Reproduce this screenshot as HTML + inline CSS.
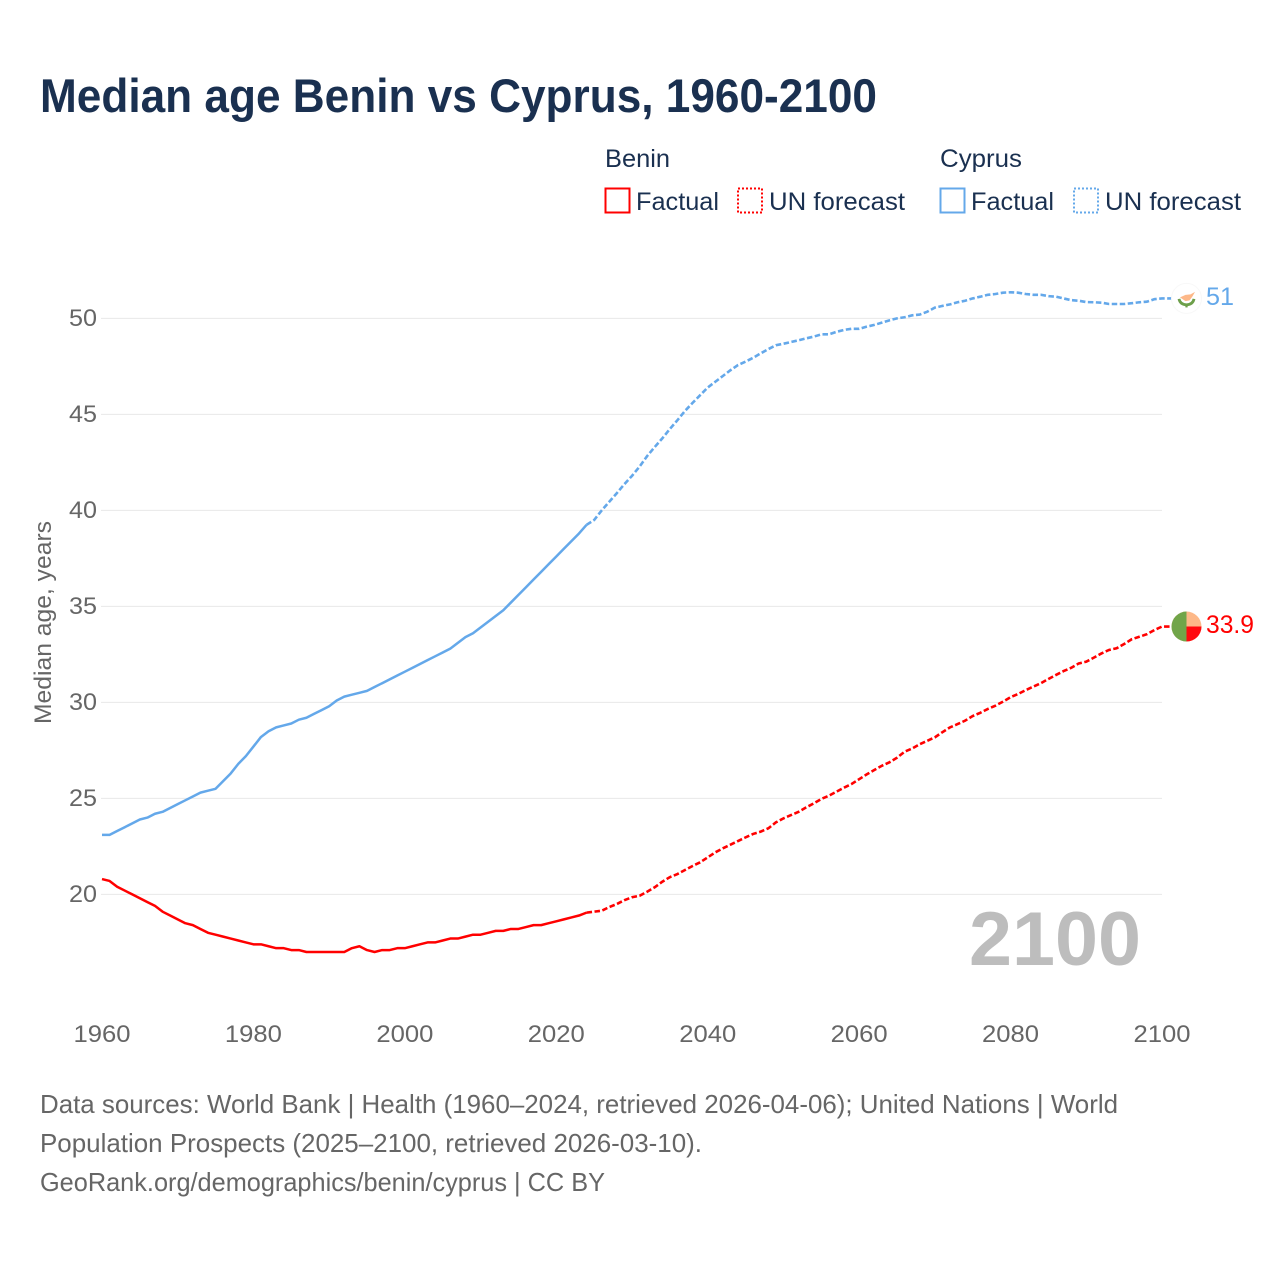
<!DOCTYPE html>
<html lang="en">
<head>
<meta charset="utf-8">
<title>Median age Benin vs Cyprus, 1960-2100</title>
<style>
html,body{margin:0;padding:0;background:#fff;}
svg{display:block;font-family:"Liberation Sans",sans-serif;}
</style>
</head>
<body>
<svg id="chart" xmlns="http://www.w3.org/2000/svg" width="1280" height="1280" viewBox="0 0 1280 1280">
  <rect x="0" y="0" width="1280" height="1280" fill="#fff"/>
  <text x="40" y="112" font-size="47" font-weight="700" fill="#1a3050" textLength="837" lengthAdjust="spacingAndGlyphs">Median age Benin vs Cyprus, 1960-2100</text>

  <g font-size="25" fill="#1a3050">
    <text x="605" y="167" textLength="65" lengthAdjust="spacingAndGlyphs">Benin</text>
    <rect x="605.5" y="188.5" width="24" height="24" fill="none" stroke="#ff0000" stroke-width="2"/>
    <text x="636" y="210" textLength="83" lengthAdjust="spacingAndGlyphs">Factual</text>
    <rect x="738" y="188.5" width="24" height="24" fill="none" stroke="#ff0000" stroke-width="2" stroke-dasharray="2 2"/>
    <text x="769" y="210" textLength="136" lengthAdjust="spacingAndGlyphs">UN forecast</text>
    <text x="940" y="167" textLength="82" lengthAdjust="spacingAndGlyphs">Cyprus</text>
    <rect x="940.5" y="188.5" width="24" height="24" fill="none" stroke="#64a8ea" stroke-width="2"/>
    <text x="971" y="210" textLength="83" lengthAdjust="spacingAndGlyphs">Factual</text>
    <rect x="1074" y="188.5" width="24" height="24" fill="none" stroke="#64a8ea" stroke-width="2" stroke-dasharray="2 2"/>
    <text x="1105" y="210" textLength="136" lengthAdjust="spacingAndGlyphs">UN forecast</text>
  </g>

  <g id="grid"></g>
  <g id="yticks"></g>
  <g id="xticks"></g>
  <text transform="translate(51 622.5) rotate(-90)" text-anchor="middle" font-size="24" fill="#666" textLength="203" lengthAdjust="spacingAndGlyphs">Median age, years</text>
  <text x="969" y="965" font-size="76" font-weight="700" fill="#bdbdbd" textLength="172" lengthAdjust="spacingAndGlyphs">2100</text>
  <g id="series"></g>
  <g id="markers"></g>

  <g font-size="26" fill="#666">
    <text x="40" y="1113" textLength="1078" lengthAdjust="spacingAndGlyphs">Data sources: World Bank | Health (1960–2024, retrieved 2026-04-06); United Nations | World</text>
    <text x="40" y="1152" textLength="662" lengthAdjust="spacingAndGlyphs">Population Prospects (2025–2100, retrieved 2026-03-10).</text>
    <text x="40" y="1191" textLength="565" lengthAdjust="spacingAndGlyphs">GeoRank.org/demographics/benin/cyprus | CC BY</text>
  </g>
</svg>
<script>
const yTickLabels = [20, 25, 30, 35, 40, 45, 50];
const xTickLabels = [1960, 1980, 2000, 2020, 2040, 2060, 2080, 2100];
const firstYear = 1960;
const lastFactualYear = 2024;
const beninValues = [
20.8,20.7,20.4,20.2,20.0,19.8,19.6,19.4,19.1,18.9,
18.7,18.5,18.4,18.2,18.0,17.9,17.8,17.7,17.6,17.5,
17.4,17.4,17.3,17.2,17.2,17.1,17.1,17.0,17.0,17.0,
17.0,17.0,17.0,17.2,17.3,17.1,17.0,17.1,17.1,17.2,
17.2,17.3,17.4,17.5,17.5,17.6,17.7,17.7,17.8,17.9,
17.9,18.0,18.1,18.1,18.2,18.2,18.3,18.4,18.4,18.5,
18.6,18.7,18.8,18.9,19.05,19.1,19.15,19.34,19.5,19.7,
19.85,19.93,20.14,20.37,20.66,20.9,21.06,21.27,21.48,21.67,
21.93,22.19,22.4,22.59,22.78,22.97,23.15,23.27,23.44,23.75,
23.96,24.13,24.3,24.53,24.74,24.97,25.14,25.35,25.56,25.75,
26.0,26.25,26.48,26.7,26.88,27.12,27.43,27.6,27.82,28.0,
28.18,28.45,28.7,28.87,29.05,29.29,29.46,29.66,29.83,30.04,
30.27,30.44,30.64,30.82,31.0,31.22,31.43,31.63,31.8,32.03,
32.12,32.33,32.55,32.73,32.82,33.04,33.29,33.42,33.55,33.77,
33.95];
const cyprusValues = [
23.1,23.1,23.3,23.5,23.7,23.9,24.0,24.2,24.3,24.5,
24.7,24.9,25.1,25.3,25.4,25.5,25.9,26.3,26.8,27.2,
27.7,28.2,28.5,28.7,28.8,28.9,29.1,29.2,29.4,29.6,
29.8,30.1,30.3,30.4,30.5,30.6,30.8,31.0,31.2,31.4,
31.6,31.8,32.0,32.2,32.4,32.6,32.8,33.1,33.4,33.6,
33.9,34.2,34.5,34.8,35.2,35.6,36.0,36.4,36.8,37.2,
37.6,38.0,38.4,38.8,39.25,39.5,40.0,40.45,40.9,41.37,
41.8,42.28,42.83,43.3,43.75,44.24,44.7,45.18,45.6,46.0,
46.4,46.7,47.0,47.3,47.57,47.75,47.95,48.18,48.4,48.6,
48.68,48.77,48.86,48.96,49.05,49.17,49.17,49.3,49.4,49.46,
49.46,49.57,49.66,49.78,49.9,50.0,50.06,50.16,50.2,50.35,
50.56,50.65,50.73,50.84,50.92,51.04,51.13,51.23,51.27,51.34,
51.36,51.34,51.27,51.23,51.23,51.16,51.13,51.04,50.95,50.92,
50.85,50.84,50.82,50.75,50.75,50.75,50.79,50.84,50.87,51.0,
51.04];
const beninEndLabel = "33.9";
const cyprusEndLabel = "51";

const NS = "http://www.w3.org/2000/svg";
function xScale(year){ return 102 + (year - 1960) * (1060 / 140); }
function yScale(v){ return 894.4 - (v - 20) * 19.2; }
function make(tag, attrs, parent){
  const el = document.createElementNS(NS, tag);
  for (const k in attrs) el.setAttribute(k, attrs[k]);
  parent.appendChild(el);
  return el;
}
const grid = document.getElementById("grid");
const yticks = document.getElementById("yticks");
const xticks = document.getElementById("xticks");
const series = document.getElementById("series");
const markers = document.getElementById("markers");

yTickLabels.forEach(function(v){
  const line = make("line", {x1:101, x2:1162, y1:yScale(v), y2:yScale(v), stroke:"#e8e8e8", "stroke-width":1}, grid);
  
  
  const t = make("text", {x:97, y:yScale(v)+7.6, "text-anchor":"end", "font-size":24, fill:"#666", textLength:28, lengthAdjust:"spacingAndGlyphs"}, yticks);
  
  
  t.textContent = v;
});
xTickLabels.forEach(function(year){
  const t = make("text", {x:xScale(year), y:1042, "text-anchor":"middle", "font-size":24, fill:"#666", textLength:57, lengthAdjust:"spacingAndGlyphs"}, xticks);
  
  
  t.textContent = year;
});

function pathFor(values, from, to){
  let d = "";
  for (let i = from; i <= to; i++){
    d += (i === from ? "M" : "L") + xScale(firstYear + i).toFixed(2) + " " + yScale(values[i]).toFixed(2);
  }
  return d;
}
const markerX = xScale(2100) + 24.5;
function drawSeries(values, color, labelText){
  const split = lastFactualYear - firstYear;
  const last = values.length - 1;
  const factual = make("path", {d:pathFor(values, 0, split), fill:"none", stroke:color, "stroke-width":2.5, "stroke-linejoin":"round"}, series);
  
  
  const ly = yScale(values[last]);
  const forecast = make("path", {d:pathFor(values, split, last) + "L" + markerX + " " + ly, fill:"none", stroke:color, "stroke-width":2.6, "stroke-dasharray":"5.5 2.5"}, series);
  
  
  const label = make("text", {x:1206, y:ly+6.5, "font-size":25, fill:color, textLength: labelText.length > 2 ? 48 : 28, lengthAdjust:"spacingAndGlyphs"}, markers);
  
  
  label.textContent = labelText;
  return ly;
}
const beninY = drawSeries(beninValues, "#ff0000", beninEndLabel);
const cyprusY = drawSeries(cyprusValues, "#64a8ea", cyprusEndLabel);

/* Benin flag marker */
const bFlag = make("g", {transform:"translate(" + markerX + " " + beninY + ")"}, markers);


make("circle", {r:15, cx:0, cy:0, fill:"#fdb888"}, bFlag);
make("path", {d:"M0 0H15A15 15 0 0 1 0 15Z", fill:"#ff0a0f"}, bFlag);
make("path", {d:"M0 -15A15 15 0 0 0 0 15Z", fill:"#71a549"}, bFlag);

/* Cyprus flag marker */
const cFlag = make("g", {transform:"translate(" + markerX + " " + cyprusY + ")"}, markers);


make("circle", {r:15, cx:0, cy:0, fill:"#fff", stroke:"#f8f8f8", "stroke-width":1}, cFlag);
make("path", {d:"M-6.5 -1L-1 -3.5L4 -4L8.5 -6.5L6 -2L3 2L-1 2.7Z", fill:"#fdb888"}, cFlag);
make("path", {d:"M-7.5 0.5Q-6.5 6 0 6.5Q6.5 6 7.5 0.5", fill:"none", stroke:"#6d9f4a", "stroke-width":2.8}, cFlag);
make("path", {d:"M0 5V9", fill:"none", stroke:"#6d9f4a", "stroke-width":2.2}, cFlag);
</script>
</body>
</html>
